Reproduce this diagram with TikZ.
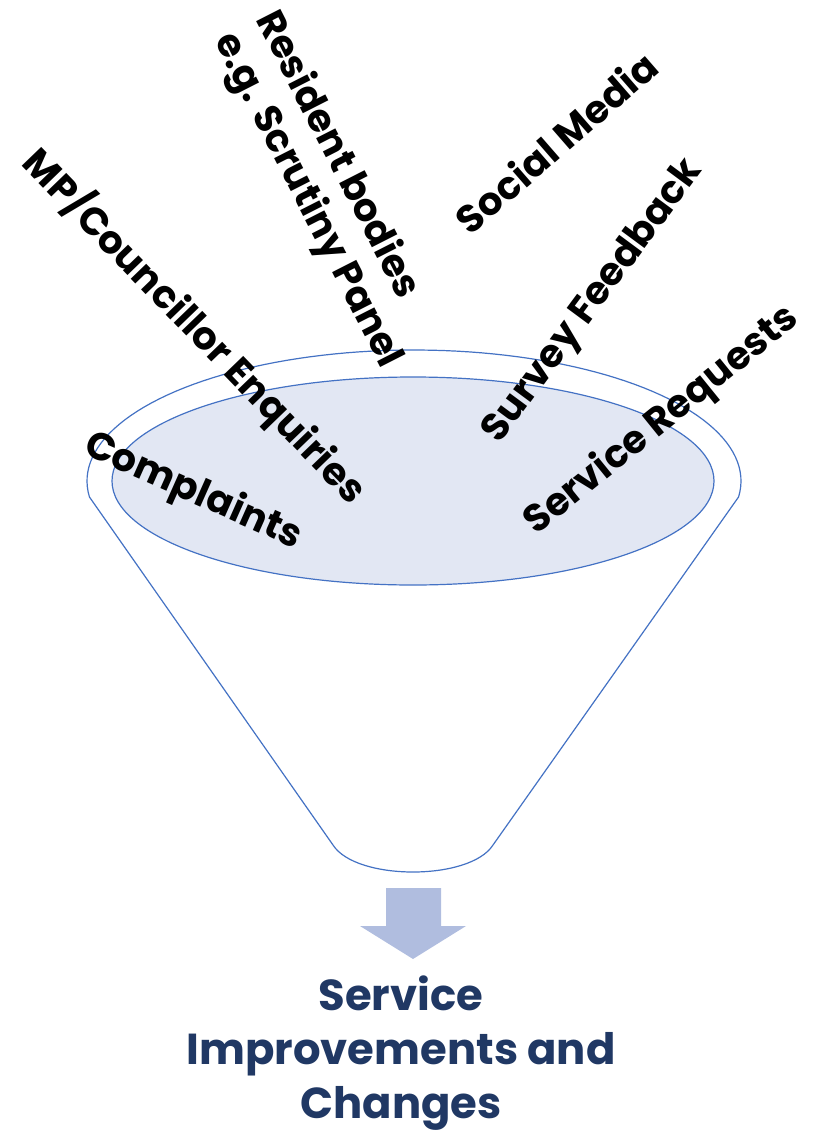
\documentclass[tikz,border=0pt]{standalone}
\usepackage{fontspec}
\setmainfont{Poppins}
\usepackage{tikz}
\usetikzlibrary{positioning}

\definecolor{rimblue}{RGB}{68,114,196}
\definecolor{bowlfill}{RGB}{226,231,243}
\definecolor{arrowblue}{RGB}{176,189,223}
\definecolor{outcome}{RGB}{32,56,100}

\begin{document}
\begin{tikzpicture}[x=0.75pt, y=-0.75pt,
    source/.style={font=\fontsize{29}{35}\selectfont\bfseries, inner sep=0pt},
    rim/.style={draw=rimblue, line width=0.9pt}]

  \useasboundingbox (0,0) rectangle (817,1135);

  % funnel
  \draw[rim, fill=white] plot[domain=173:367, samples=90] ({414+327*cos(\x)}, {481+131*sin(\x)})
    -- (493,845) .. controls (470,881) and (356,881) .. (333,845) -- cycle;
  \draw[rim, fill=bowlfill] (413,481) ellipse [x radius=225.75pt, y radius=78pt];

  % inputs
  \node[source, rotate=-24] (complaints) at (193,492) {Complaints};
  \node[source, rotate=-46] (councillor) at (195,326) {MP/Councillor Enquiries};
  \node[source, rotate=-63, align=left] (resident) at (328,190) {Resident bodies\\e.g. Scrutiny Panel};
  \node[source, rotate=41] (social) at (556,142) {Social Media};
  \node[source, rotate=53.5] (survey) at (594,302) {Survey Feedback};
  \node[source, rotate=39] (requests) at (662,421) {Service Requests};

  % output
  \fill[arrowblue] (386,888) -- (441,888) -- (441,926) -- (466,926) -- (413,959) -- (360,926) -- (386,926) -- cycle;
  \node[font=\fontsize{32.5}{40.5}\selectfont\bfseries, text=outcome, align=center, inner sep=0pt] (result) at (401,1053) {Service\\Improvements and\\Changes};

\end{tikzpicture}
\end{document}
